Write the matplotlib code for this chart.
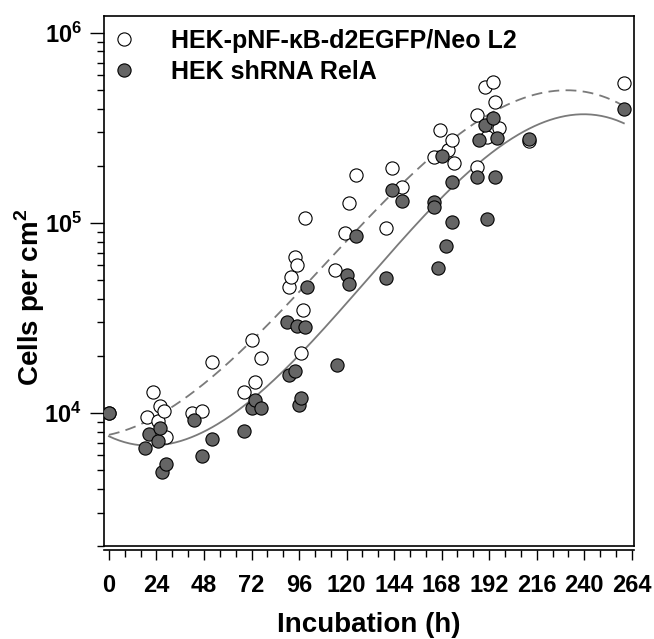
import numpy as np
import matplotlib
matplotlib.use('Agg')
import matplotlib.pyplot as plt
from matplotlib.ticker import FixedLocator, FixedFormatter, NullFormatter

plt.rcParams['font.family'] = ['Liberation Sans', 'DejaVu Sans']
plt.rcParams['font.weight'] = 'bold'
plt.rcParams['mathtext.fontset'] = 'custom'
plt.rcParams['mathtext.rm'] = 'Liberation Sans:bold'
plt.rcParams['mathtext.bf'] = 'Liberation Sans:bold'

# HEK-pNF-kB-d2EGFP/Neo L2 (open circles)
wt_hours = [0, 19, 22, 25, 26, 28, 29, 42, 47, 52, 68, 72, 74, 77, 91, 92, 94,
            95, 97, 98, 99, 114, 119, 121, 125, 140, 143, 148, 164, 167, 171,
            173, 174, 186, 186, 190, 191, 194, 195, 197, 212, 260]
wt_cells = [10000, 9500, 12900, 9100, 10900, 10300, 7500, 10000, 10250, 18500,
            12900, 24200, 14600, 19500, 46000, 52000, 66000, 60000, 20700,
            34800, 106000, 56600, 88600, 127000, 179000, 94000, 196000,
            155000, 222000, 308000, 242000, 273000, 207000, 370000, 197000,
            520000, 284000, 552000, 433000, 316000, 270000, 545000]

# HEK shRNA RelA (filled circles)
kd_hours = [0, 18, 20, 25, 26, 27, 29, 43, 47, 52, 68, 72, 74, 77, 91, 94, 90,
            95, 99, 96, 97, 100, 115, 120, 121, 125, 140, 143, 148, 164, 164,
            166, 168, 170, 173, 173, 186, 187, 190, 191, 194, 195, 196, 212, 260]
kd_cells = [10000, 6550, 7750, 7130, 8340, 4890, 5400, 9190, 5940, 7300, 8040,
            10600, 11700, 10600, 15800, 16600, 30100, 28700, 28400, 11000,
            12000, 46000, 17900, 53200, 47800, 85600, 51400, 149000, 131000,
            129000, 121000, 57900, 226000, 75700, 164000, 101000, 175000,
            273000, 328000, 105000, 357000, 175000, 280000, 277000, 398000]

x_major = [0, 24, 48, 72, 96, 120, 144, 168, 192, 216, 240, 264]

line_color = '#7a7a7a'
fill_color = '#656565'

fig = plt.figure(figsize=(6.54, 6.39), dpi=100)
ax = fig.add_axes([0.159, 0.1455, 0.81, 0.8295])

# cubic fit of log10(cells) vs time, as in the original figure
t_fit = np.linspace(0, 260, 300)
for hrs, cells, ls in [(wt_hours, wt_cells, (0, (6, 3.5))),
                       (kd_hours, kd_cells, '-')]:
    coef = np.polyfit(hrs, np.log10(cells), 3)
    ax.plot(t_fit, 10 ** np.polyval(coef, t_fit), color=line_color,
            lw=1.3, ls=ls, zorder=2)

ax.plot(wt_hours, wt_cells, 'o', ms=9.5, mfc='white', mec='black', mew=0.8,
        label=u'HEK-pNF-\u03baB-d2EGFP/Neo L2', zorder=3)
ax.plot(kd_hours, kd_cells, 'o', ms=9.5, mfc=fill_color, mec='black', mew=0.8,
        label='HEK shRNA RelA', zorder=4)

ax.set_yscale('log')
ax.set_xlim(-2.5, 265)
ax.set_ylim(2000, 1.23e6)

ax.xaxis.set_major_locator(FixedLocator(x_major))
ax.xaxis.set_minor_locator(FixedLocator(np.arange(0, 265, 8)))
ax.set_xticklabels([str(v) for v in x_major])

ax.yaxis.set_major_locator(FixedLocator([1e4, 1e5, 1e6]))
ax.yaxis.set_major_formatter(FixedFormatter([r'$\mathbf{10^{4}}$',
                                             r'$\mathbf{10^{5}}$',
                                             r'$\mathbf{10^{6}}$']))
minors = [m * 10 ** d for d in (3, 4, 5) for m in range(2, 10)]
ax.yaxis.set_minor_locator(FixedLocator(minors))
ax.yaxis.set_minor_formatter(NullFormatter())

ax.tick_params(axis='x', which='major', direction='out', length=7, width=1,
               labelsize=17, pad=10)
ax.tick_params(axis='x', which='minor', direction='out', length=5, width=1)
ax.tick_params(axis='y', which='major', direction='out', length=10, width=1,
               labelsize=17, pad=6)
ax.tick_params(axis='y', which='minor', direction='out', length=5, width=1)
for lab in ax.get_xticklabels():
    lab.set_fontweight('bold')

ax.spines['bottom'].set_position(('outward', 3))
for s in ax.spines.values():
    s.set_linewidth(1.2)
ax.plot([0, 1], [0, 0], transform=ax.transAxes, color='black', lw=1.2,
        clip_on=False)

ax.set_xlabel('Incubation (h)', fontsize=20, fontweight='bold', labelpad=11)
ax.set_ylabel(r'Cells per cm$^{\mathbf{2}}$', fontsize=20, fontweight='bold')
ax.yaxis.set_label_coords(-0.108, 0.47)

leg = ax.legend(loc='upper left', bbox_to_anchor=(0.0, 0.985), frameon=False,
                prop={'weight': 'bold', 'size': 18}, handletextpad=1.3,
                borderaxespad=0.0, borderpad=0.2, labelspacing=0.28,
                handlelength=1.2)

fig.savefig('out.png', dpi=100)
